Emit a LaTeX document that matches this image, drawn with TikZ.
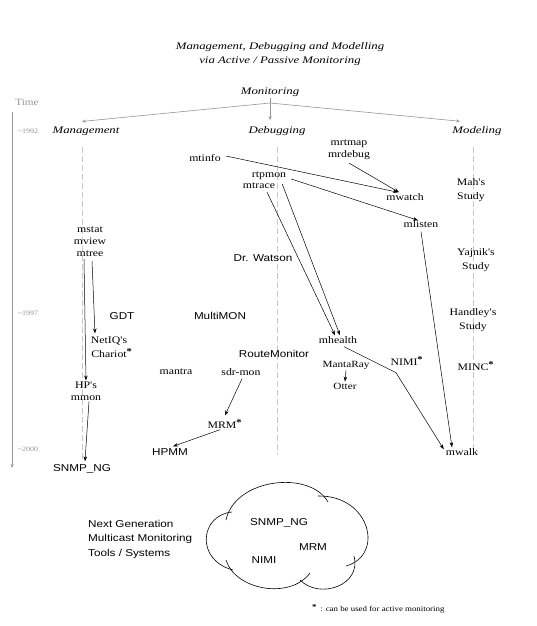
\documentclass[tikz,border=0pt]{standalone}
\usepackage{fontspec}
\setmainfont{Liberation Serif}
\newfontfamily\srf[FakeStretch=1.18]{Liberation Serif}
\newfontfamily\sns[FakeStretch=1.17]{Liberation Sans}
\newfontfamily\itf[FakeStretch=1.28]{Liberation Serif}
\usetikzlibrary{arrows.meta,calc}
\definecolor{tgray}{RGB}{150,150,150}
\definecolor{dgray}{RGB}{200,200,200}
\newcommand{\astr}{\rlap{\raisebox{3pt}{\fontsize{9}{9}\selectfont\bfseries *}}}
\begin{document}
\begin{tikzpicture}[x=1pt,y=-1pt,
 lbl/.style={font=\srf\fontsize{10}{12}\selectfont,inner sep=1pt,align=center},
 lblw/.style={font=\srf\fontsize{10}{14}\selectfont,inner sep=1pt,align=center},
 slbl/.style={font=\sns\fontsize{10}{12}\selectfont,inner sep=1pt,align=center},
 hd/.style={font=\itf\itshape\fontsize{10}{14}\selectfont,inner sep=1pt,align=center},
 tl/.style={font=\srf\fontsize{6.8}{7}\selectfont,text=tgray,inner sep=0pt},
 arr/.style={-{Stealth[length=5pt,width=3.5pt]},line width=0.5pt},
 garr/.style={-{Stealth[length=4pt,width=3pt]},line width=0.6pt,draw=tgray},
 vdash/.style={draw=dgray,line width=0.6pt,dash pattern=on 6pt off 3pt},
 cloudline/.style={line width=0.6pt}
]
\useasboundingbox (0,0) rectangle (537,626);
\fill[white] (0,0) rectangle (537,626);

% titles
\node[hd] (title) at (280,54) {Management, Debugging and Modelling\\via Active / Passive Monitoring};
\node[hd] (mon) at (270,92) {Monitoring};
\node[hd] (mgmt) at (86,131) {Management};
\node[hd] (dbg) at (277,131) {Debugging};
\node[hd] (mdl) at (477,131) {Modeling};
\coordinate (split) at (270,103);
\draw[tgray,line width=0.6pt] (mon.south) -- (split);
\draw[garr] (split) -- ($(mgmt.north)+(-4,-4)$);
\draw[garr] (split) -- ($(dbg.north)+(-7,-5)$);
\draw[garr] (split) -- ($(mdl.north)+(-17,-4)$);

% column guides
\draw[vdash] (82,147) -- (82,462);
\draw[vdash] (277,147) -- (277,455);
\draw[vdash] (473,147) -- (473,455);

% time axis
\node[font=\srf\fontsize{9.5}{10}\selectfont,text=tgray,inner sep=0pt] (time) at (27,102) {Time};
\coordinate (t0) at (12,112);
\coordinate (t1) at (12,468);
\draw[garr] (t0) -- (t1);
\node[tl] (y92) at (28,131) {\textasciitilde1992};
\node[tl] (y97) at (28,313) {\textasciitilde1997};
\node[tl] (y00) at (28,449) {\textasciitilde2000};

% tools
\node[lbl] (mtinfo) at (205,158) {mtinfo};
\node[lbl] (mrt) at (349,150) {mrtmap\\mrdebug};
\node[lbl] (rtp) at (269,176) {rtpmon};
\node[lbl] (mtrace) at (259,186) {mtrace};
\node[lbl] (mwatch) at (405,197) {mwatch};
\node[lblw] (mah) at (471,190) {Mah's\\Study};
\node[lbl] (mlisten) at (421,224) {mlisten};
\node[lbl] (mst) at (90,242) {mstat\\mview\\mtree};
\node[slbl] (watson) at (263,258) {Dr. Watson};
\node[lblw] (yaj) at (476,260) {Yajnik's\\Study};
\node[slbl] (gdt) at (122,316) {GDT};
\node[slbl] (multi) at (220,316) {MultiMON};
\node[lblw] (hand) at (473,320) {Handley's\\Study};
\node[lblw] (netiq) at (109,347) {NetIQ's\\Chariot\astr};
\node[slbl] (route) at (274,354) {RouteMonitor};
\node[lbl] (mhealth) at (338,340) {mhealth};
\node[lbl] (nimi) at (404,361) {NIMI\astr};
\node[font=\srf\fontsize{9.5}{11}\selectfont,inner sep=1pt] (manta) at (346,365) {MantaRay};
\node[font=\srf\fontsize{9.5}{11}\selectfont,inner sep=1pt] (otter) at (345,386) {Otter};
\node[lbl] (minc) at (473,366) {MINC\astr};
\node[lbl] (mantra) at (176,372) {mantra};
\node[lbl] (sdr) at (241,372) {sdr-mon};
\node[lbl] (hp) at (86,391) {HP's\\mmon};
\node[lbl] (mrm) at (222,424) {MRM\astr};
\node[slbl] (hpmm) at (170,452) {HPMM};
\node[lbl] (mwalk) at (462,452) {mwalk};
\node[slbl] (snmp) at (82,469) {SNMP\_NG};

% connectors
\draw[arr] ($(mtinfo.east)+(4,-2)$) -- ($(mwatch.north)+(-7,0)$);
\draw[arr] ($(mrt.south)+(0,2)$) -- ($(mwatch.north)+(-6,0)$);
\draw[arr] ($(rtp.east)+(4,3)$) -- ($(mlisten.north)+(-3,1)$);
\draw[arr] ($(rtp.south east)+(-5,3)$) -- ($(mhealth.north)+(2,0)$);
\draw[arr] ($(mtrace.south)+(8,2)$) -- ($(mhealth.north)+(-3,0)$);
\draw[arr] ($(mlisten.south)+(0,3)$) -- ($(mwalk.north)+(-10,0)$);
\draw[arr] ($(mhealth.south)+(6,2)$) -- ($(nimi.south)+(-8,6)$) -- ($(mwalk.north west)+(-1,2)$);
\draw[arr] (manta.south) -- (otter.north);
\draw[arr] ($(mst.south)+(-6,1)$) -- (hp.north);
\draw[arr] ($(mst.south)+(2,3)$) -- ($(netiq.north)+(-14,-2)$);
\draw[arr] ($(hp.south)+(3,0)$) -- ($(snmp.north)+(3,-2)$);
\draw[arr] ($(sdr.south)+(1,2)$) -- ($(mrm.north)+(3,-3)$);
\draw[arr] ($(mrm.south)+(-2,0)$) -- ($(hpmm.north)+(3,-1)$);

% next generation
\node[font=\sns\fontsize{10}{14.5}\selectfont,inner sep=0pt,align=left,anchor=west] (ng) at (88,539) {Next Generation\\Multicast Monitoring\\Tools / Systems};

% cloud
\draw[cloudline] (226,520) .. controls (235,478) and (310,470) .. (328,502);
\draw[cloudline] (318,496) .. controls (370,495) and (385,555) .. (346,566);
\draw[cloudline] (354,556) .. controls (362,585) and (320,600) .. (300,580);
\draw[cloudline] (310,573) .. controls (290,600) and (235,590) .. (226,560);
\draw[cloudline] (233,570) .. controls (195,560) and (200,515) .. (232,512);
\node[slbl] (csnmp) at (279,523) {SNMP\_NG};
\node[slbl] (cmrm) at (313,547) {MRM};
\node[slbl] (cnimi) at (264,560) {NIMI};

% footnote
\node[font=\srf\fontsize{7.5}{9}\selectfont,inner sep=0pt,anchor=west] (foot) at (312,609) {\raisebox{2pt}{\bfseries *}\enspace: can be used for active monitoring};
\end{tikzpicture}
\end{document}
